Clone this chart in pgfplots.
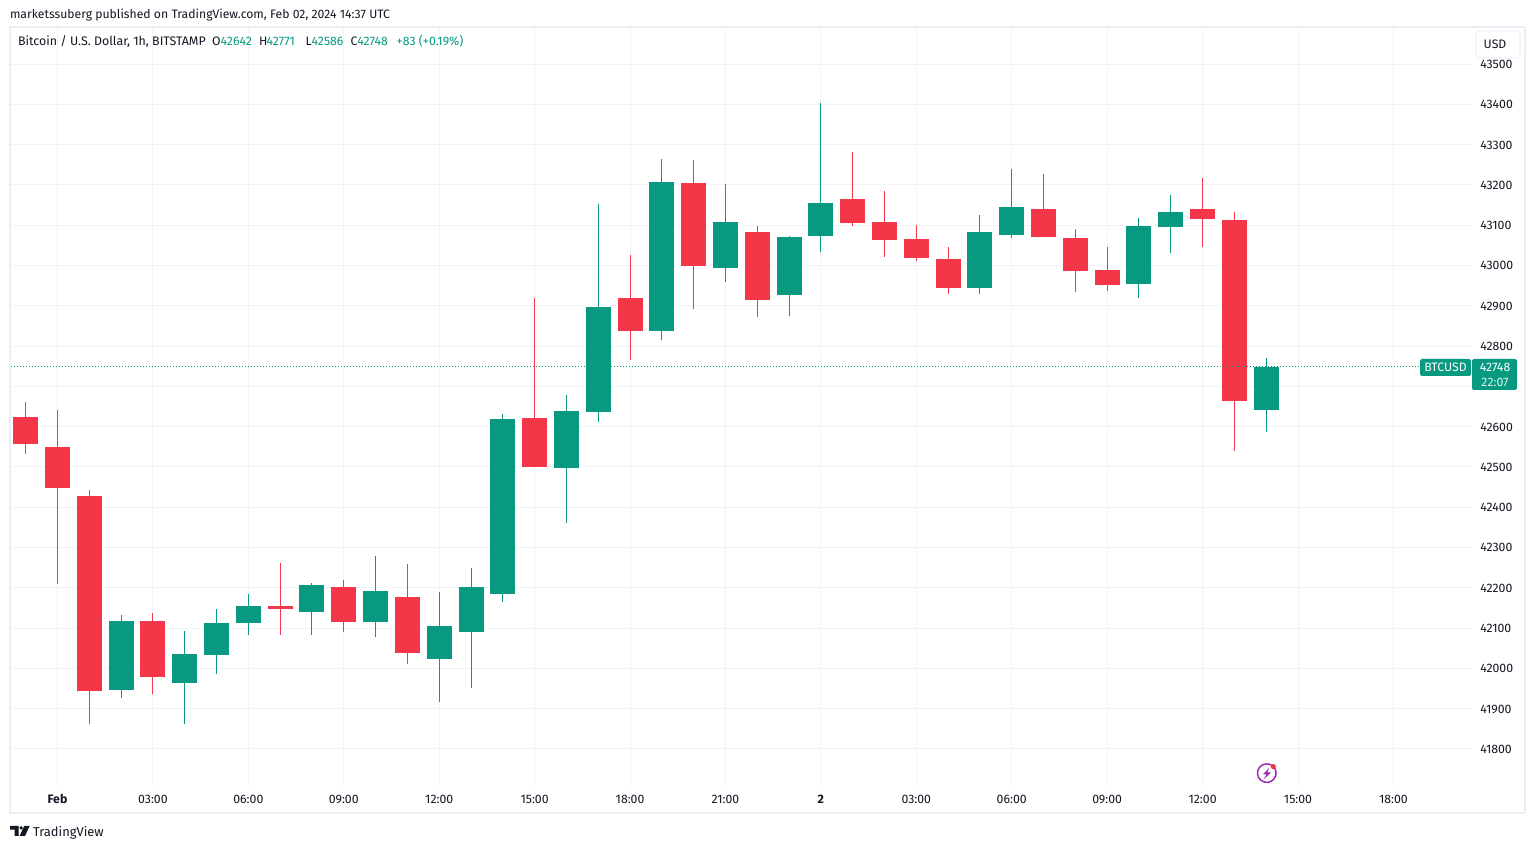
\documentclass[border=0pt]{standalone}
\usepackage{fontspec}
\usepackage{pgfplots}
\usepackage{pgfplotstable}
\pgfplotsset{compat=1.18}
\setmainfont{Fira Sans}
\definecolor{tvgreen}{HTML}{089981}
\definecolor{tvred}{HTML}{F33748}
\definecolor{tvink}{HTML}{131722}
\definecolor{tvgrid}{HTML}{F0F3FA}
\definecolor{tvframe}{HTML}{ECEEF4}
\definecolor{tvpurple}{HTML}{9C27B0}

\pgfplotstableread{
h open high low close
-1 42623 42660 42531 42556
0 42549 42641 42209 42447
1 42427 42442 41861 41943
3 42117 42137 41936 41978
7 42154 42261 42082 42147
9 42201 42219 42090 42114
11 42176 42258 42010 42037
15 42621 42919 42499 42499
18 42919 43025 42765 42837
20 43204 43261 42891 42998
22 43082 43097 42871 42914
25 43165 43281 43098 43105
26 43108 43184 43021 43063
27 43065 43100 43011 43018
28 43016 43046 42929 42944
31 43140 43227 43070 43070
32 43068 43090 42934 42986
33 42988 43046 42936 42951
36 43140 43217 43046 43115
37 43113 43132 42539 42663
}\redcandles

\pgfplotstableread{
h open high low close
2 41946 42132 41926 42117
4 41963 42092 41861 42035
5 42032 42147 41985 42112
6 42112 42184 42082 42154
8 42139 42211 42082 42206
10 42114 42278 42077 42191
12 42023 42189 41916 42104
13 42090 42248 41951 42201
14 42184 42631 42164 42618
16 42497 42678 42360 42638
17 42636 43152 42611 42896
19 42837 43263 42814 43206
21 42993 43201 42958 43107
23 42926 43072 42874 43070
24 43073 43403 43033 43155
29 42944 43125 42929 43083
30 43075 43239 43068 43145
34 42954 43117 42919 43098
35 43095 43175 43031 43132
38 42642 42771 42586 42748
}\greencandles

\begin{document}
\begin{tikzpicture}
\useasboundingbox (0pt,0pt) rectangle (1150.5pt,636.75pt);
\fill[white] (0pt,0pt) rectangle (1150.5pt,636.75pt);
\begin{scope}[shift={(0pt,636.75pt)},x=0.75pt,y=-0.75pt]
\draw[tvframe,line width=1.5pt] (10,27) rectangle (1525,813);
\end{scope}
\begin{axis}[
  at={(8.25pt,47.25pt)},anchor=south west,
  scale only axis,width=1095.75pt,height=568.5pt,
  xmin=-1.462,xmax=44.47,ymin=41708,ymax=43589.4,
  axis line style={draw=none},
  major tick length=0pt,
  tick style={draw=none},
  grid=major,
  grid style={tvgrid,line width=0.75pt},
  scaled ticks=false,
  xtick={0,3,...,42},
  xticklabels={{\bfseries Feb},03:00,06:00,09:00,12:00,15:00,18:00,21:00,{\bfseries 2},03:00,06:00,09:00,12:00,15:00,18:00},
  ytick={41800,41900,...,43500},
  yticklabels={41800,41900,42000,42100,42200,42300,42400,42500,42600,{},42800,42900,43000,43100,43200,43300,43400,43500},
  yticklabel pos=right,
  tick label style={font=\fontsize{9.2}{10}\selectfont,text=tvink},
  xticklabel style={anchor=base,yshift=-13.5pt},
  yticklabel style={inner sep=0pt,xshift=6pt,yshift=-0.3pt},
]
% wicks
\addplot[draw=none,mark=none,forget plot,
  error bars/.cd,y dir=both,y explicit,error mark=none,
  error bar style={tvred,line width=0.75pt}]
  table[x=h,y=close,y error plus expr=\thisrow{high}-\thisrow{close},y error minus expr=\thisrow{close}-\thisrow{low}] {\redcandles};
\addplot[draw=none,mark=none,forget plot,
  error bars/.cd,y dir=both,y explicit,error mark=none,
  error bar style={tvgreen,line width=0.75pt}]
  table[x=h,y=open,y error plus expr=\thisrow{high}-\thisrow{open},y error minus expr=\thisrow{open}-\thisrow{low}] {\greencandles};
% bodies
\addplot[draw=none,mark=none,forget plot,
  error bars/.cd,y dir=plus,y explicit,error mark=none,
  error bar style={tvred,line width=18.75pt}]
  table[x=h,y=close,y error plus expr=\thisrow{open}-\thisrow{close}] {\redcandles};
\addplot[draw=none,mark=none,forget plot,
  error bars/.cd,y dir=plus,y explicit,error mark=none,
  error bar style={tvgreen,line width=18.75pt}]
  table[x=h,y=open,y error plus expr=\thisrow{close}-\thisrow{open}] {\greencandles};
% last price line
\addplot[tvgreen,line width=0.75pt,dash pattern=on 0.75pt off 1.5pt,forget plot] coordinates {(-1.462,42748) (44.47,42748)};
\end{axis}
\begin{scope}[shift={(0pt,636.75pt)},x=0.75pt,y=-0.75pt,
  every node/.style={inner sep=0pt,outer sep=0pt,font=\fontsize{9.2}{10}\selectfont,text=tvink}]
% header
\node[anchor=base west,font=\fontsize{9.15}{10}\selectfont] at (10,18.5) {marketssuberg published on TradingView.com, Feb 02, 2024 14:37 UTC};
\node[anchor=base west,font=\fontsize{9.3}{10}\selectfont] at (18,46) {Bitcoin / U.S. Dollar, 1h, BITSTAMP};
\node[anchor=base west] at (212,46) {O};
\node[anchor=base west,text=tvgreen] at (220.7,46) {42642};
\node[anchor=base west] at (259,46) {H};
\node[anchor=base west,text=tvgreen] at (266.7,46) {42771};
\node[anchor=base west] at (305.7,46) {L};
\node[anchor=base west,text=tvgreen] at (311.7,46) {42586};
\node[anchor=base west] at (350.7,46) {C};
\node[anchor=base west,text=tvgreen] at (357.3,46) {42748};
\node[anchor=base west,text=tvgreen] at (396.7,46) {+83 (+0.19\%)};
% USD button
\draw[tvgrid,line width=1.1pt,fill=white,rounded corners=3pt] (1476,31) rectangle (1520,58);
\node at (1495,44.5) {USD};
% last price labels
\fill[tvgreen,rounded corners=1.2pt] (1420,359) rectangle (1471,376);
\fill[tvgreen,rounded corners=1.2pt] (1472,359) rectangle (1517,390);
\node[text=white] at (1445.5,367.7) {BTCUSD};
\node[text=white] at (1495,367.5) {42748};
\node[text=white!85!tvgreen] at (1495,382.5) {22:07};
% bolt icon
\draw[tvpurple,line width=1.1pt] (1272.5,765.8) arc[start angle=-52,end angle=-410,radius=9.3];
\fill[tvpurple] (1269.5,767.5) -- (1263,774.5) -- (1266.5,774.5) -- (1263.5,779.5) -- (1271,772.5) -- (1267.2,772.5) -- cycle;
\fill[tvred] (1273.3,766.6) circle[radius=2.6];
% logo
\fill[tvink] (10,826) -- (18.6,826) -- (18.6,836) -- (14.6,836) -- (14.6,829.6) -- (10,829.6) -- cycle;
\fill[tvink] (21.2,827.9) circle[radius=1.9];
\fill[tvink] (24.2,826) -- (29.6,826) -- (25,836) -- (19.6,836) -- cycle;
\node[anchor=base west,font=\fontsize{9.7}{11}\selectfont] at (33,836.5) {TradingView};
\end{scope}
\end{tikzpicture}
\end{document}
